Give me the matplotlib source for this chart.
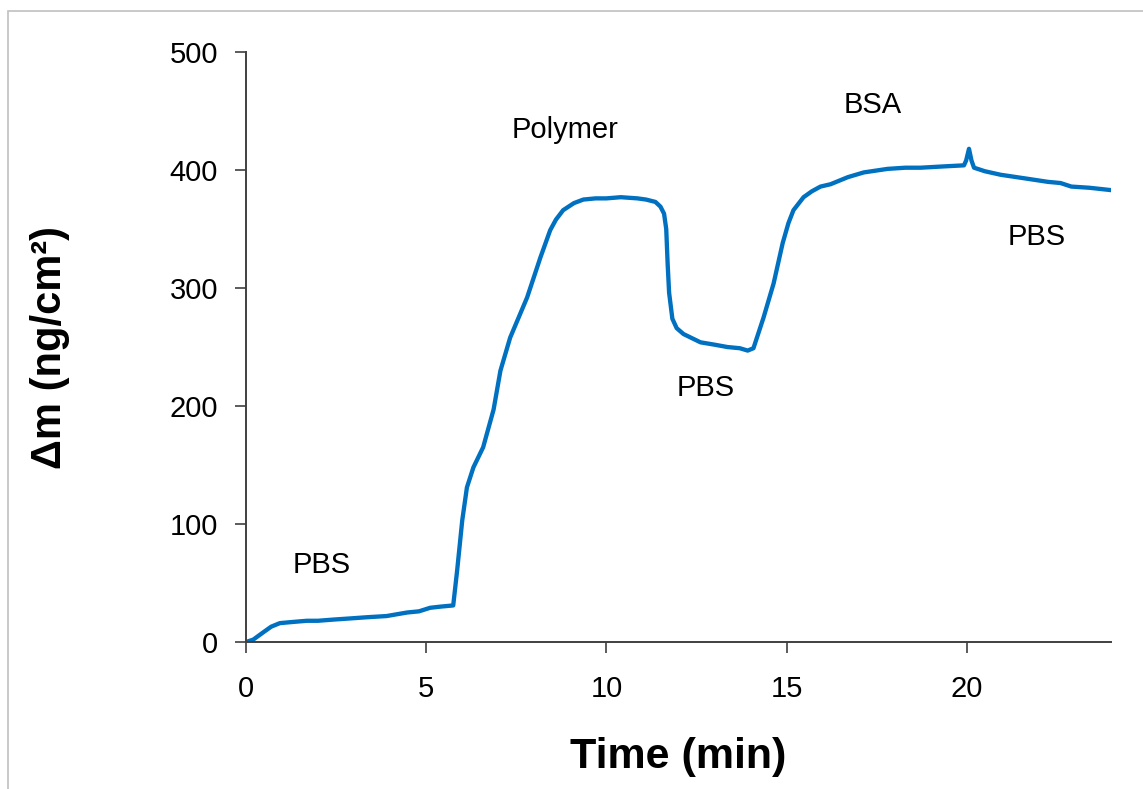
import matplotlib.pyplot as plt
from matplotlib.patches import Rectangle

plt.rcParams['font.family'] = ['Liberation Sans', 'DejaVu Sans']

# QCM trace: time (min) and mass change (ng/cm2)
time_min = [0.0, 0.2, 0.47, 0.7, 0.94, 1.3, 1.69, 2.0, 2.42, 2.9, 3.36, 3.9, 4.47, 4.8,
            5.11, 5.4, 5.75, 5.86, 6.0, 6.13, 6.31, 6.58, 6.87, 7.06, 7.33, 7.8,
            8.17, 8.44, 8.6, 8.8, 9.1, 9.36, 9.7, 10.0, 10.4, 10.86, 11.1, 11.36, 11.5,
            11.6, 11.66, 11.7, 11.74, 11.83, 11.95, 12.14, 12.61, 13.0, 13.36, 13.7, 13.92,
            14.08, 14.36, 14.64, 14.89, 15.05, 15.19, 15.47, 15.7, 15.94, 16.22, 16.7, 17.14,
            17.8, 18.3, 18.72, 19.3, 19.92, 19.98, 20.06, 20.13, 20.2, 20.5, 20.94,
            21.6, 22.25, 22.6, 22.9, 23.4, 24.0]
delta_m = [0, 2, 8, 13, 16, 17, 18, 18, 19, 20, 21, 22, 25, 26,
           29, 30, 31, 61, 103, 131, 148, 165, 197, 230, 258, 292,
           326, 349, 358, 366, 372, 375, 376, 376, 377, 376, 375, 373, 369,
           363, 350, 320, 296, 274, 266, 261, 254, 252, 250, 249, 247,
           249, 275, 304, 338, 355, 366, 377, 382, 386, 388, 394, 398,
           401, 402, 402, 403, 404, 408, 418, 408, 402, 399, 396,
           393, 390, 389, 386, 385, 383]

# stage labels
stage_text = ['PBS', 'Polymer', 'PBS', 'BSA', 'PBS']
stage_x = [2.1, 8.85, 12.75, 17.4, 21.95]
stage_y = [65, 434, 215, 455, 343]

fig = plt.figure(figsize=(11.43, 7.89), dpi=100)
ax = fig.add_axes([0.2152, 0.1863, 0.9720 - 0.2152, 0.934 - 0.1863])

ax.plot(time_min, delta_m, color='#0070C0', linewidth=3.1,
        solid_joinstyle='round', solid_capstyle='round')

for t, x, y in zip(stage_text, stage_x, stage_y):
    ax.text(x, y, t, fontsize=21, ha='center', va='center')

ax.set_xlim(0, 24)
ax.set_ylim(0, 500)
ax.set_xticks([0, 5, 10, 15, 20])
ax.set_yticks([0, 100, 200, 300, 400, 500])
ax.tick_params(labelsize=21, length=8, width=1.2, color='#404040')
ax.tick_params(axis='y', pad=12)
ax.tick_params(axis='x', pad=16)

for s in ['top', 'right']:
    ax.spines[s].set_visible(False)
for s in ['left', 'bottom']:
    ax.spines[s].set_color('#404040')
    ax.spines[s].set_linewidth(1.4)

ax.set_xlabel('Time (min)', fontsize=31, fontweight='bold', labelpad=24)
ax.set_ylabel('Δm (ng/cm²)', fontsize=30, fontweight='bold', labelpad=72)

# light grey frame around the picture
fig.add_artist(Rectangle((8 / 1143, -0.1), 1.2, 1 - 11 / 789 + 0.1,
                         transform=fig.transFigure, fill=False,
                         edgecolor='#c0c0c0', linewidth=1.2))

fig.savefig('out.png', dpi=100)
